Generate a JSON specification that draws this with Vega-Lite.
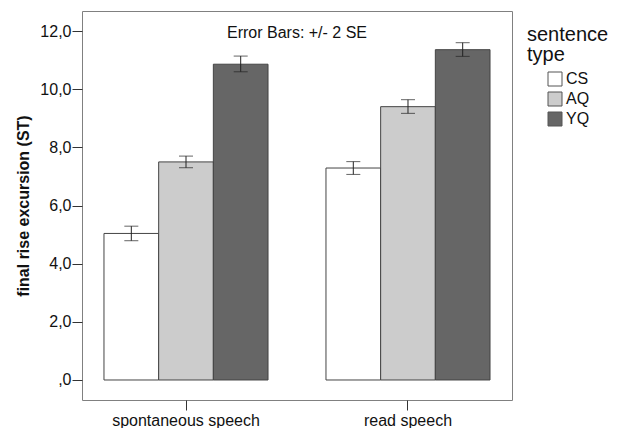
{
  "$schema": "https://vega.github.io/schema/vega-lite/v6.json",
  "width": 430,
  "height": 389,
  "autosize": {"type": "none"},
  "padding": {"left": 82, "top": 11, "right": 109, "bottom": 28},
  "background": "white",
  "title": {
    "text": "Error Bars: +/- 2 SE",
    "orient": "top",
    "anchor": "middle",
    "offset": -43,
    "baseline": "alphabetic",
    "fontSize": 16,
    "fontWeight": "normal",
    "color": "#111"
  },
  "config": {
    "font": "Liberation Sans",
    "view": {"stroke": "#808080", "strokeWidth": 1},
    "axis": {"grid": false, "domain": false, "tickColor": "#333", "labelColor": "#111", "titleColor": "#111"}
  },
  "data": {
    "values": [
      {"speech": "spontaneous speech", "type": "CS", "value": 5.04, "lo": 4.79, "hi": 5.29},
      {"speech": "spontaneous speech", "type": "AQ", "value": 7.50, "lo": 7.30, "hi": 7.70},
      {"speech": "spontaneous speech", "type": "YQ", "value": 10.86, "lo": 10.60, "hi": 11.14},
      {"speech": "read speech", "type": "CS", "value": 7.29, "lo": 7.07, "hi": 7.51},
      {"speech": "read speech", "type": "AQ", "value": 9.40, "lo": 9.17, "hi": 9.64},
      {"speech": "read speech", "type": "YQ", "value": 11.36, "lo": 11.13, "hi": 11.60}
    ]
  },
  "encoding": {
    "x": {
      "field": "speech",
      "type": "nominal",
      "sort": ["spontaneous speech", "read speech"],
      "scale": {"paddingInner": 0.261, "paddingOuter": 0.099},
      "axis": {"title": null, "labelAngle": 0, "labelFontSize": 16, "tickSize": 10, "labelPadding": 2}
    },
    "xOffset": {
      "field": "type",
      "type": "nominal",
      "sort": ["CS", "AQ", "YQ"],
      "scale": {"paddingInner": 0, "paddingOuter": 0}
    }
  },
  "layer": [
    {
      "mark": {"type": "bar", "stroke": "#444", "strokeWidth": 1},
      "encoding": {
        "y": {
          "field": "value",
          "type": "quantitative",
          "scale": {"domain": [-0.688, 12.69], "nice": false, "zero": false},
          "axis": {
            "title": "final rise excursion (ST)",
            "titleFontSize": 16,
            "titleFontWeight": "bold",
            "titlePadding": 8,
            "values": [0, 2, 4, 6, 8, 10, 12],
            "labelExpr": "datum.value == 0 ? ',0' : replace(format(datum.value, '.1f'), '.', ',')",
            "labelFontSize": 16,
            "tickSize": 10,
            "labelPadding": 1
          }
        },
        "y2": {"datum": 0},
        "fill": {
          "field": "type",
          "type": "nominal",
          "sort": ["CS", "AQ", "YQ"],
          "scale": {"domain": ["CS", "AQ", "YQ"], "range": ["#ffffff", "#cccccc", "#666666"]},
          "legend": {
            "title": ["sentence", "type"],
            "orient": "none",
            "legendX": 445,
            "legendY": 14,
            "padding": 0,
            "titleFontSize": 20,
            "titleFontWeight": "normal",
            "titleLineHeight": 20,
            "titleColor": "#111",
            "titlePadding": 6,
            "labelFontSize": 16,
            "labelColor": "#111",
            "labelOffset": 3,
            "symbolType": "square",
            "symbolSize": 196,
            "symbolStrokeColor": "#555",
            "symbolStrokeWidth": 1,
            "symbolOffset": 20,
            "rowPadding": 2
          }
        }
      }
    },
    {
      "mark": {"type": "rule", "color": "#333", "strokeWidth": 1},
      "encoding": {
        "y": {"datum": 0, "type": "quantitative"}
      }
    },
    {
      "mark": {"type": "rule", "color": "#222", "strokeWidth": 1},
      "encoding": {
        "y": {"field": "lo", "type": "quantitative"},
        "y2": {"field": "hi"}
      }
    },
    {
      "mark": {"type": "tick", "color": "#222", "thickness": 1, "size": 14},
      "encoding": {"y": {"field": "lo", "type": "quantitative"}}
    },
    {
      "mark": {"type": "tick", "color": "#222", "thickness": 1, "size": 14},
      "encoding": {"y": {"field": "hi", "type": "quantitative"}}
    }
  ]
}
